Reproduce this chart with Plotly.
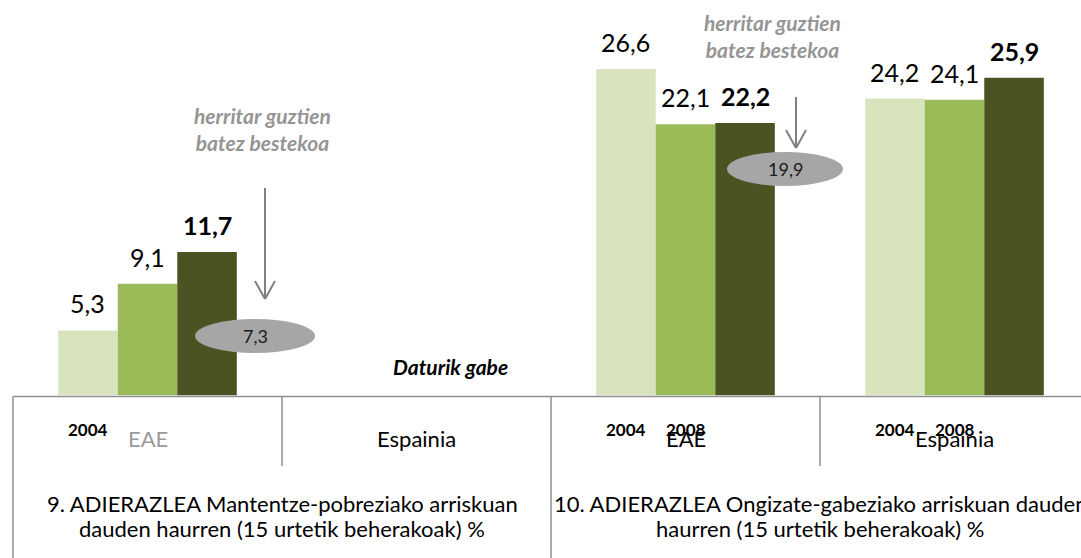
import plotly.graph_objects as go

W, H = 1081, 558

# ---------------- data ----------------
categories = ["EAE", "Espainia"]
series_names = ["2004", "2008", "azkena"]
series_colors = ["#D7E4BD", "#9BBB59", "#4A5321"]

ind9_2004 = [5.3, None]
ind9_2008 = [9.1, None]
ind9_last = [11.7, None]

ind10_2004 = [26.6, 24.2]
ind10_2008 = [22.1, 24.1]
ind10_last = [22.2, 25.9]

avg9 = 7.3
avg10 = 19.9

year_labels = ["2004", "2008"]
title9 = ["9. ADIERAZLEA Mantentze-pobreziako arriskuan",
          "dauden haurren (15 urtetik beherakoak) %"]
title10 = ["10. ADIERAZLEA Ongizate-gabeziako arriskuan dauden",
           "haurren (15 urtetik beherakoak) %"]
avg_text = "herritar guztien<br>batez bestekoa"
nodata_text = "Daturik gabe"

FONT = "Lato"
BARGAP = 0.336
BW = (1 - BARGAP) / 3
offsets = [-BW, 0, BW]


def px(x):
    return x / W


def py(y):
    return 1 - y / H


def fmt(v):
    return f"{v:.1f}".replace(".", ",")


fig = go.Figure()

panels = [
    ("x", "y", [ind9_2004, ind9_2008, ind9_last]),
    ("x2", "y2", [ind10_2004, ind10_2008, ind10_last]),
]

annotations = []
for xa, ya, series in panels:
    for i, (name, col, vals) in enumerate(zip(series_names, series_colors, series)):
        fig.add_trace(go.Bar(
            x=categories, y=vals, name=name, marker=dict(color=col, line=dict(width=0)),
            xaxis=xa, yaxis=ya, showlegend=False, hoverinfo="skip",
        ))
        for ci, v in enumerate(vals):
            if v is None:
                continue
            txt = fmt(v)
            if i == 2:
                txt = "<b>" + txt + "</b>"
            annotations.append(dict(
                x=ci + offsets[i], y=v, xref=xa, yref=ya, text=txt, showarrow=False,
                yshift=27, yanchor="middle", xanchor="center",
                font=dict(family=FONT, size=25, color="#000000"),
            ))

# y scale: 0 at y=395.5px, ~12.27 px per unit
y_bottom = py(395.5)
ymax = 395.5 / 12.27

fig.update_layout(
    width=W, height=H, margin=dict(l=0, r=0, t=0, b=0),
    paper_bgcolor="white", plot_bgcolor="rgba(0,0,0,0)",
    barmode="group", bargap=BARGAP, bargroupgap=0,
    xaxis=dict(domain=[px(13), px(551)], type="category", categoryorder="array",
               categoryarray=categories, range=[-0.5, 1.5], visible=False),
    xaxis2=dict(domain=[px(551), 1], type="category", categoryorder="array",
                categoryarray=categories, range=[-0.5, -0.5 + 530 / 269], visible=False),
    yaxis=dict(domain=[y_bottom, 1], range=[0, ymax], visible=False),
    yaxis2=dict(domain=[y_bottom, 1], range=[0, ymax], visible=False, anchor="x2"),
    showlegend=False,
)

# ---------------- table lines ----------------
LC = "#8F8F8F"
shapes = []
def line(x0, y0, x1, y1, color=LC, width=1.5):
    shapes.append(dict(type="line", xref="paper", yref="paper",
                       x0=px(x0), y0=py(y0), x1=px(x1), y1=py(y1),
                       line=dict(color=color, width=width)))

line(13, 396.5, 1081, 396.5)
line(13, 396.5, 13, 558)
line(551, 396.5, 551, 558)
line(282, 396.5, 282, 466)
line(820, 396.5, 820, 466)

# ---------------- averages: arrows + ellipses ----------------
AC = "#808080"
def arrow(x, ytop, ytip):
    line(x, ytop, x, ytip, AC, 2)
    line(x - 10, ytip - 18, x, ytip, AC, 2)
    line(x + 10, ytip - 18, x, ytip, AC, 2)

arrow(265, 188, 299)
arrow(796, 97, 148)

def ellipse(cx, cy, w, h, val):
    shapes.append(dict(type="circle", xref="paper", yref="paper",
                       x0=px(cx - w / 2), x1=px(cx + w / 2),
                       y0=py(cy + h / 2), y1=py(cy - h / 2),
                       fillcolor="#A6A6A6", line=dict(width=0), layer="above"))
    annotations.append(dict(x=px(cx), y=py(cy), xref="paper", yref="paper",
                            text=fmt(val), showarrow=False, xanchor="center", yanchor="middle",
                            font=dict(family=FONT, size=18, color="#1A1A1A")))

ellipse(255, 336, 120, 34, avg9)
ellipse(785, 169, 116, 34, avg10)

for cx, cy in [(262, 129), (772, 36)]:
    annotations.append(dict(x=px(cx), y=py(cy), xref="paper", yref="paper",
                            text="<b><i>" + avg_text + "</i></b>", showarrow=False,
                            xanchor="center", yanchor="middle",
                            font=dict(family=FONT, size=21, color="#959595")))

annotations.append(dict(x=px(450), y=py(366), xref="paper", yref="paper",
                        text="<b><i>" + nodata_text + "</i></b>", showarrow=False,
                        xanchor="center", yanchor="middle",
                        font=dict(family=FONT, size=21, color="#000000")))

# ---------------- table texts ----------------
# year tick labels under individual bars
year_pos = [("x", 0, [year_labels[0]]), ("x2", 0, year_labels), ("x2", 1, year_labels)]
for xa, ci, labs in year_pos:
    for i, lab in enumerate(labs):
        annotations.append(dict(x=ci + offsets[i], y=py(430), xref=xa, yref="paper",
                                text="<b>" + lab + "</b>", showarrow=False,
                                xanchor="center", yanchor="middle",
                                font=dict(family=FONT, size=17, color="#000000")))

for xa in ["x", "x2"]:
    for ci, cat in enumerate(categories):
        c = "#9A9A9A" if (xa == "x" and ci == 0) else "#000000"
        annotations.append(dict(x=ci, y=py(438), xref=xa, yref="paper", text=cat,
                                showarrow=False, xanchor="center", yanchor="middle",
                                font=dict(family=FONT, size=22, color=c)))

for cx, lines_ in [(282, title9), (820, title10)]:
    for k, t in enumerate(lines_):
        annotations.append(dict(x=px(cx), y=py(503 + 25 * k), xref="paper", yref="paper",
                                text=t, showarrow=False, xanchor="center", yanchor="middle",
                                font=dict(family=FONT, size=22, color="#000000")))

fig.update_layout(shapes=shapes, annotations=annotations)
fig.write_html("out.html", config={"displayModeBar": False},
               post_script="document.body.style.margin='0';document.body.style.overflow='hidden';")
